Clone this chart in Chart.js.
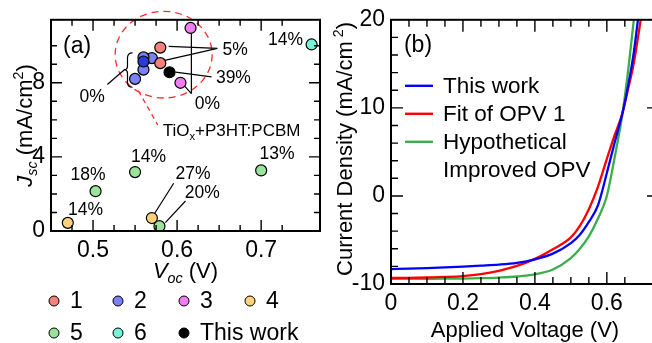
<!DOCTYPE html>
<html>
<head>
<meta charset="utf-8">
<script src="https://cdn.jsdelivr.net/npm/chart.js@4.4.0/dist/chart.umd.min.js"></script>
<style>
html, body { margin: 0; padding: 0; background: #fff; overflow: hidden; width: 652px; height: 343px; }
#scatterChart { position: absolute; left: 0; top: 0; }
#jvChart { position: absolute; left: 330px; top: 0; }
</style>
</head>
<body>
<canvas id="scatterChart" width="330" height="343"></canvas>
<canvas id="jvChart" width="340" height="343"></canvas>
<script>
// (a) Jsc vs Voc, one array per group: [Voc (V), Jsc (mA/cm2)]
const groupLabels = ['1', '2', '3', '4', '5', '6', 'This work'];
const group1 = [[0.58, 9.9], [0.58, 9.06]];
const group2 = [[0.55, 8.21], [0.56, 8.71], [0.57, 9.33], [0.56, 9.37], [0.56, 9.15]];
const group3 = [[0.616, 10.96], [0.604, 8.0]];
const group4 = [[0.47, 0.44], [0.57, 0.70]];
const group5 = [[0.55, 3.18], [0.503, 2.15], [0.579, 0.26], [0.70, 3.27]];
const group6 = [[0.76, 10.07]];
const thisWork = [[0.591, 8.57]];

// (b) J-V curves
const voltage = [0, 0.05, 0.1, 0.15, 0.2, 0.25, 0.3, 0.35, 0.4, 0.45, 0.5, 0.525, 0.55, 0.575, 0.6, 0.62, 0.644, 0.66, 0.675, 0.69, 0.7, 0.71];
const jThisWork = [-8.3, -8.26, -8.2, -8.12, -8.03, -7.92, -7.8, -7.6, -7.2, -6.55, -5.35, -4.4, -2.95, -1.1, 2.6, 5.8, 9.5, 12.7, 16.3, 21.2, 24.5, 28];
const jFitOpv1 = [-9.32, -9.3, -9.26, -9.2, -9.1, -8.88, -8.5, -7.95, -7.15, -6.05, -4.7, -3.4, -1.5, 1.0, 4.2, 6.7, 9.5, 12.3, 15.1, 18.9, 21.5, 24];
const jImproved = [-9.42, -9.42, -9.41, -9.4, -9.38, -9.34, -9.27, -9.15, -8.9, -8.35, -7.05, -6.0, -4.6, -2.6, 0.0, 4.0, 9.5, 14.5, 20.0, 25, 28, 31];
const curveLabels = ['This work', 'Fit of OPV 1', ['Hypothetical', 'Improved OPV']];

const FONT = "'Liberation Sans', Arial, sans-serif";
const groupColors = ['#f4817a', '#7b80f2', '#f27cf2', '#fdd17e', '#9be39a', '#76f2d4', '#000000'];
const curveColors = ['#0000ff', '#ff0000', '#3aae4a'];

function isMultiple(v, step) {
    const r = v / step;
    return Math.abs(r - Math.round(r)) < 1e-6;
}

// text with italic / sub / sup parts, drawn centred (or left) on x, y = middle of caps
function drawRich(ctx, parts, x, y, size, align) {
    const items = parts.map(p => {
        const small = p.sub || p.sup;
        const s = small ? size * 0.65 : size;
        const font = (p.italic ? 'italic ' : '') + s + 'px ' + FONT;
        ctx.font = font;
        return { t: p.t, font: font, w: ctx.measureText(p.t).width + (p.gap || 0), gap: p.gap || 0,
                 dy: p.sub ? size * 0.22 : p.sup ? -size * 0.4 : 0 };
    });
    const total = items.reduce((s, it) => s + it.w, 0);
    let cx = align === 'left' ? x : x - total / 2;
    const base = y + size * 0.36;
    ctx.textAlign = 'left';
    ctx.textBaseline = 'alphabetic';
    items.forEach(it => {
        ctx.font = it.font;
        ctx.fillText(it.t, cx + it.gap, base + it.dy);
        cx += it.w;
    });
}

const frameTicks = {
    id: 'frameTicks',
    afterDraw(chart, args, opts) {
        const { ctx, chartArea: a, scales: { x, y } } = chart;
        ctx.save();
        ctx.strokeStyle = '#000';
        ctx.lineWidth = 1.4;
        ctx.beginPath();
        x.ticks.forEach(t => {
            if (t.value <= x.min + 1e-9 || t.value >= x.max - 1e-9) return;
            const px = x.getPixelForValue(t.value);
            const len = t.label ? opts.major : opts.minor;
            ctx.moveTo(px, a.bottom); ctx.lineTo(px, a.bottom - len);
            ctx.moveTo(px, a.top); ctx.lineTo(px, a.top + len);
        });
        y.ticks.forEach(t => {
            if (t.value <= y.min + 1e-9 || t.value >= y.max - 1e-9) return;
            const py = y.getPixelForValue(t.value);
            const len = t.label ? opts.major : opts.minor;
            ctx.moveTo(a.left, py); ctx.lineTo(a.left + len, py);
            ctx.moveTo(a.right, py); ctx.lineTo(a.right - len, py);
        });
        ctx.stroke();
        ctx.lineWidth = 2;
        ctx.strokeRect(a.left, a.top, a.right - a.left, a.bottom - a.top);
        // axis titles
        ctx.fillStyle = '#000';
        const t = opts.titles;
        drawRich(ctx, t.x, (a.left + a.right) / 2, t.xTitleY, 22, 'center');
        ctx.translate(t.yTitleX, (a.top + a.bottom) / 2 + (t.yShift || 0));
        ctx.rotate(-Math.PI / 2);
        drawRich(ctx, t.y, 0, 0, 22, 'center');
        ctx.restore();
    }
};

// annotations of panel (a)
const annotationsA = {
    id: 'annotationsA',
    beforeDatasetsDraw(chart) {
        const { ctx, scales: { x, y } } = chart;
        const X = v => x.getPixelForValue(v), Y = v => y.getPixelForValue(v);
        ctx.save();
        // dashed circle round the TiOx+P3HT:PCBM devices
        ctx.strokeStyle = '#ff2a2a';
        ctx.lineWidth = 1.3;
        ctx.setLineDash([7, 5]);
        ctx.beginPath();
        ctx.ellipse(X(0.584), Y(9.52), X(0.6417) - X(0.584), Y(9.52) - Y(11.86), 0, 0, Math.PI * 2);
        ctx.stroke();
        ctx.setLineDash([5, 4]);
        ctx.beginPath();
        ctx.moveTo(X(0.554), Y(7.57));
        ctx.lineTo(X(0.577), Y(5.72));
        ctx.stroke();
        ctx.setLineDash([]);

        // leader lines
        ctx.strokeStyle = '#000';
        ctx.lineWidth = 1.2;
        const leaders = [
            [[0.590, 9.97], [0.648, 9.86]],
            [[0.584, 9.2], [0.648, 9.86]],
            [[0.598, 8.58], [0.641, 8.32]],
            [[0.617, 10.67], [0.617, 7.41]],
            [[0.609, 7.82], [0.617, 7.41]],
            [[0.573, 0.93], [0.596, 2.58]],
            [[0.586, 0.45], [0.610, 1.62]],
            [[0.517, 7.91], [0.538, 8.73]]
        ];
        ctx.beginPath();
        leaders.forEach(l => {
            ctx.moveTo(X(l[0][0]), Y(l[0][1]));
            ctx.lineTo(X(l[1][0]), Y(l[1][1]));
        });
        ctx.stroke();
        // curly bracket for group 2
        const bx = X(0.541), tip = X(0.537), ex = X(0.547);
        const yt = Y(9.62), ym = Y(8.71), yb = Y(7.76);
        ctx.beginPath();
        ctx.moveTo(ex, yt);
        ctx.quadraticCurveTo(bx, yt, bx, yt + 5);
        ctx.lineTo(bx, ym - 4);
        ctx.quadraticCurveTo(bx, ym, tip, ym);
        ctx.quadraticCurveTo(bx, ym, bx, ym + 4);
        ctx.lineTo(bx, yb - 5);
        ctx.quadraticCurveTo(bx, yb, ex, yb);
        ctx.stroke();

        // labels
        ctx.fillStyle = '#000';
        ctx.textAlign = 'center';
        ctx.textBaseline = 'middle';
        ctx.font = '17.5px ' + FONT;
        const labels = [
            ['5%', 0.669, 9.76], ['39%', 0.667, 8.27], ['0%', 0.636, 6.83], ['0%', 0.499, 7.2],
            ['14%', 0.729, 10.29], ['14%', 0.566, 3.96], ['13%', 0.719, 4.12], ['18%', 0.494, 3.0],
            ['14%', 0.491, 1.14], ['27%', 0.619, 3.06], ['20%', 0.630, 2.05]
        ];
        labels.forEach(l => ctx.fillText(l[0], X(l[1]), Y(l[2])));
        drawRich(ctx, [{ t: 'TiO' }, { t: 'x', sub: true }, { t: '+P3HT:PCBM' }], X(0.583), Y(5.45), 17, 'left');
        ctx.font = '23px ' + FONT;
        ctx.textAlign = 'center';
        ctx.textBaseline = 'middle';
        ctx.fillText('(a)', X(0.481), Y(9.97));
        ctx.restore();
    }
};

// legend below panel (a)
const legendA = {
    id: 'legendA',
    afterDraw(chart) {
        const ctx = chart.ctx;
        const cols = [54, 118, 184, 250], rows = [301, 333];
        ctx.save();
        chart.data.datasets.forEach((ds, i) => {
            const cx = cols[i % 4], cy = rows[Math.floor(i / 4)];
            ctx.beginPath();
            ctx.arc(cx, cy, 5, 0, Math.PI * 2);
            ctx.fillStyle = groupColors[i];
            ctx.fill();
            ctx.lineWidth = 1;
            ctx.strokeStyle = '#000';
            ctx.stroke();
            ctx.fillStyle = '#000';
            ctx.font = '23px ' + FONT;
            ctx.textAlign = 'left';
            ctx.textBaseline = 'middle';
            ctx.fillText(ds.label, cx + 16, cy + 1);
        });
        ctx.restore();
    }
};

// legend and label inside panel (b)
const legendB = {
    id: 'legendB',
    afterDraw(chart) {
        const ctx = chart.ctx;
        const a = chart.chartArea;
        ctx.save();
        ctx.fillStyle = '#000';
        ctx.font = '23px ' + FONT;
        ctx.textAlign = 'center';
        ctx.textBaseline = 'middle';
        ctx.fillText('(b)', a.left + 27, a.top + 26);
        ctx.font = '22.5px ' + FONT;
        ctx.textAlign = 'left';
        let yy = a.top + 66;
        chart.data.datasets.forEach((ds, i) => {
            ctx.strokeStyle = ds.borderColor;
            ctx.lineWidth = 2.4;
            ctx.beginPath();
            ctx.moveTo(a.left + 14, yy);
            ctx.lineTo(a.left + 42, yy);
            ctx.stroke();
            const lines = [].concat(curveLabels[i]);
            lines.forEach(t => {
                ctx.fillText(t, a.left + 52, yy + 1);
                yy += 28;
            });
        });
        ctx.restore();
    }
};

const tickFont = { family: FONT, size: 23 };

new Chart(document.getElementById('scatterChart'), {
    type: 'scatter',
    data: {
        datasets: [group1, group2, group3, group4, group5, group6, thisWork].map((pts, i) => ({
            label: groupLabels[i],
            data: pts.map(p => ({ x: p[0], y: p[1] })),
            backgroundColor: i === 1 ? pts.map((p, j) => j === pts.length - 1 ? '#2a3ad6' : groupColors[1]) : groupColors[i],
            borderColor: '#000',
            borderWidth: 1.2,
            pointRadius: 5.5
        }))
    },
    options: {
        responsive: false,
        animation: false,
        layout: { padding: { left: 0, right: 10, top: 16, bottom: 0 } },
        plugins: {
            legend: { display: false },
            tooltip: { enabled: false },
            frameTicks: {
                major: 11, minor: 6,
                titles: {
                    x: [{ t: 'V', italic: true }, { t: 'oc', italic: true, sub: true }, { t: ' (V)' }],
                    xTitleY: 270,
                    y: [{ t: 'J', italic: true }, { t: 'sc', italic: true, sub: true }, { t: ' (mA/cm' }, { t: '2', sup: true }, { t: ')' }],
                    yTitleX: 24
                }
            }
        },
        scales: {
            x: {
                type: 'linear', min: 0.45, max: 0.77,
                afterFit: s => { s.height = 112; },
                grid: { display: false, drawTicks: false },
                border: { display: false },
                ticks: {
                    stepSize: 0.025, autoSkip: false, maxRotation: 0, padding: 6, color: '#000', font: tickFont,
                    callback: v => isMultiple(v, 0.1) ? v.toFixed(1) : ''
                }
            },
            y: {
                min: 0, max: 11.4,
                afterFit: s => { s.width = 51; },
                grid: { display: false, drawTicks: false },
                border: { display: false },
                ticks: {
                    stepSize: 1, autoSkip: false, padding: 6, color: '#000', font: tickFont,
                    callback: v => isMultiple(v, 4) ? String(Math.round(v)) : ''
                }
            }
        }
    },
    plugins: [annotationsA, frameTicks, legendA]
});

new Chart(document.getElementById('jvChart'), {
    type: 'line',
    data: {
        datasets: [jThisWork, jFitOpv1, jImproved].map((js, i) => ({
            label: [].concat(curveLabels[i]).join(' '),
            data: voltage.map((v, k) => ({ x: v, y: js[k] })),
            borderColor: curveColors[i],
            borderWidth: 2.3,
            pointRadius: 0,
            fill: false,
            cubicInterpolationMode: 'monotone'
        }))
    },
    options: {
        responsive: false,
        animation: false,
        layout: { padding: { left: 0, right: 11, top: 17, bottom: 0 } },
        plugins: {
            legend: { display: false },
            tooltip: { enabled: false },
            frameTicks: {
                major: 12, minor: 7,
                titles: {
                    x: [{ t: 'Applied Voltage (V)' }],
                    xTitleY: 329,
                    y: [{ t: 'Current Density (mA/cm' }, { t: '2', sup: true, gap: 4 }, { t: ')' }],
                    yTitleX: 14,
                    yShift: -3
                }
            }
        },
        scales: {
            x: {
                type: 'linear', min: 0, max: 0.745,
                afterFit: s => { s.height = 59; },
                grid: { display: false, drawTicks: false },
                border: { display: false },
                ticks: {
                    stepSize: 0.05, autoSkip: false, maxRotation: 0, padding: 6, color: '#000', font: tickFont,
                    callback: v => isMultiple(v, 0.2) ? (Math.abs(v) < 1e-9 ? '0' : v.toFixed(1)) : ''
                }
            },
            y: {
                min: -10, max: 20,
                afterFit: s => { s.width = 61; },
                grid: { display: false, drawTicks: false },
                border: { display: false },
                ticks: {
                    stepSize: 2, autoSkip: false, padding: 6, color: '#000', font: tickFont,
                    callback: v => isMultiple(v, 10) ? String(Math.round(v)) : ''
                }
            }
        }
    },
    plugins: [frameTicks, legendB]
});
</script>
</body>
</html>
